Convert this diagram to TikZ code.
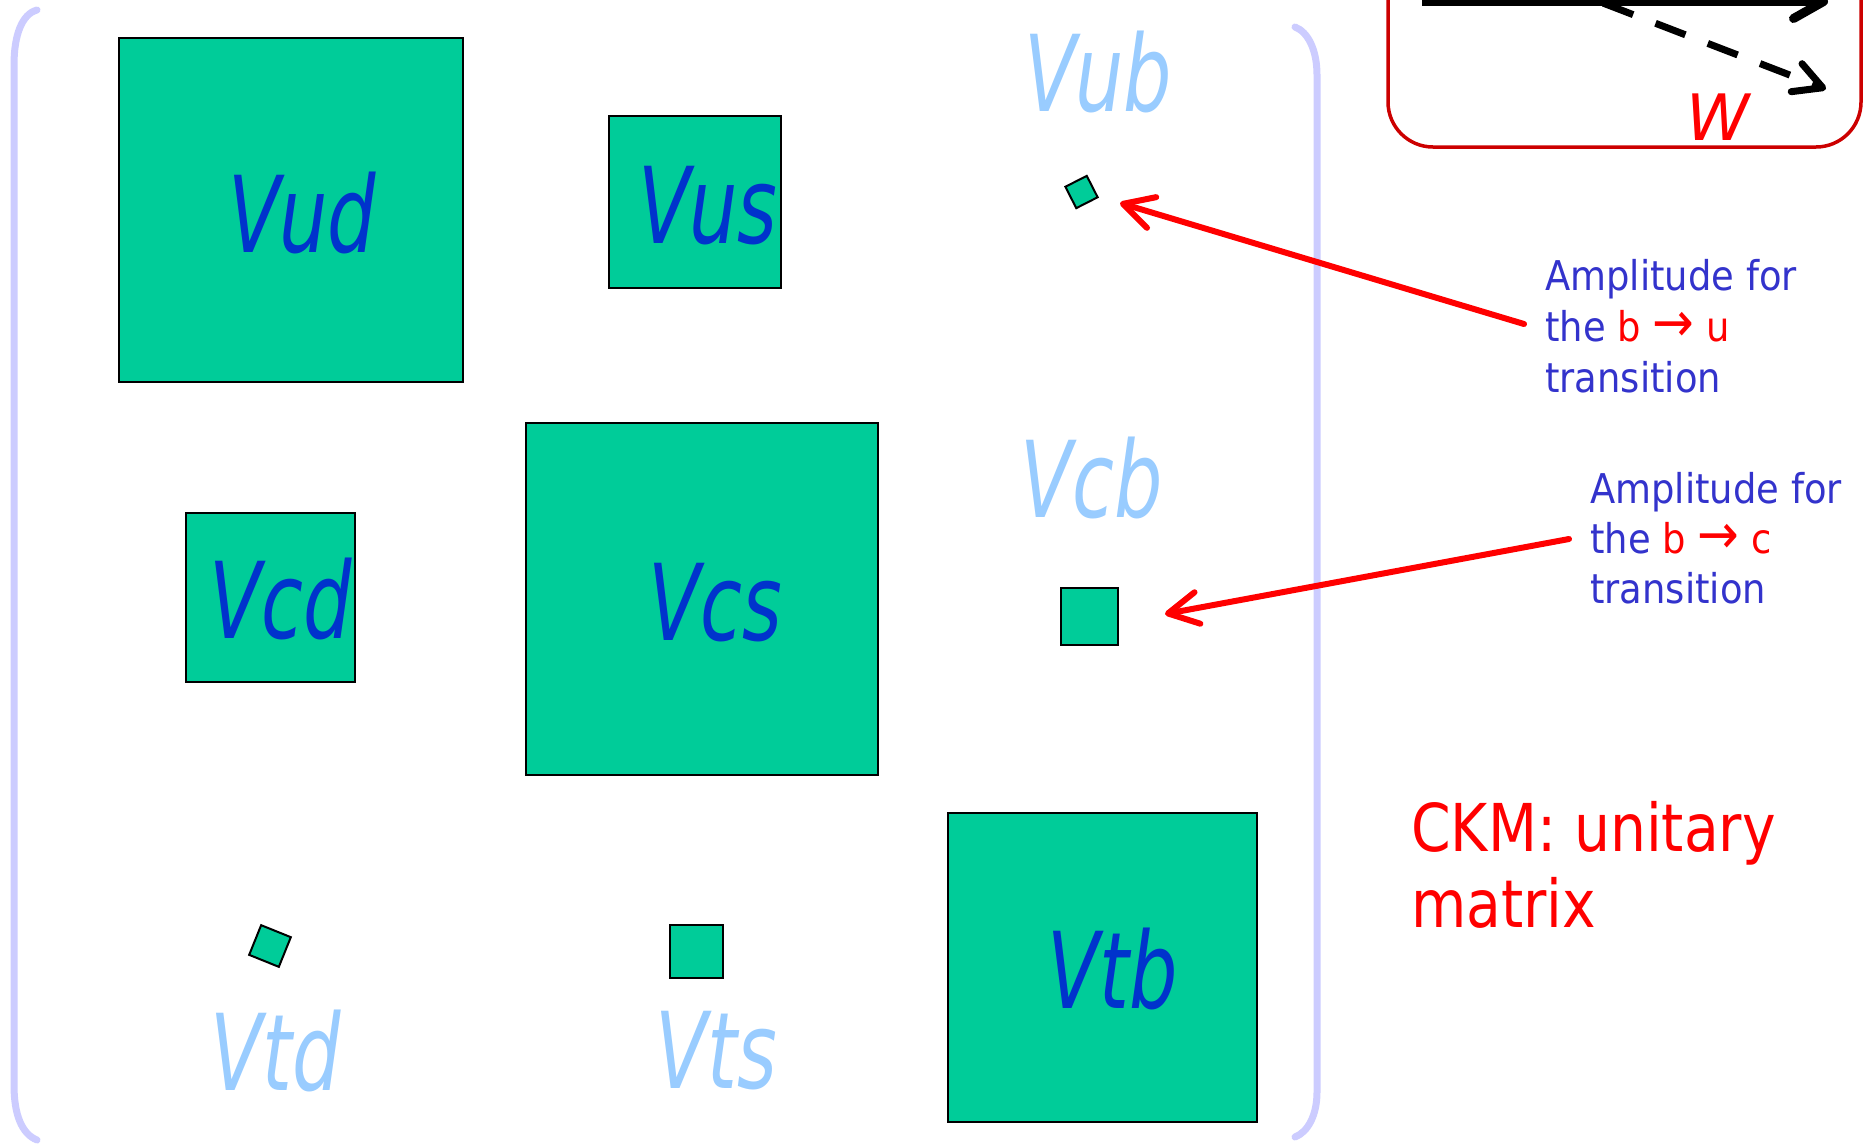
\documentclass[tikz,border=0pt]{standalone}
\usepackage{fontspec}
\usetikzlibrary{arrows.meta}
\newfontfamily\vfont[FakeStretch=0.72]{DejaVu Sans}
\newfontfamily\tfont[FakeStretch=0.9]{DejaVu Sans}
\newfontfamily\cfont[FakeStretch=0.86]{DejaVu Sans}
\newfontfamily\pfont{DejaVu Sans}
\definecolor{ckmgreen}{RGB}{0,204,153}
\definecolor{darkv}{RGB}{0,51,204}
\definecolor{lightv}{RGB}{153,204,255}
\definecolor{brack}{RGB}{204,204,255}
\definecolor{ampblue}{RGB}{51,51,204}
\definecolor{boxred}{RGB}{204,0,0}
\newcommand{\bigarr}{\scalebox{1.35}{→}}
\begin{document}
\begin{tikzpicture}[x=1pt,y=-1pt,
  cell/.style={draw=black,line width=2pt,fill=ckmgreen,inner sep=0pt,minimum size=#1,anchor=center},
  vdark/.style={font=\vfont\itshape\fontsize{106}{106}\selectfont,text=darkv,inner sep=0pt,anchor=base west},
  vlight/.style={font=\vfont\itshape\fontsize{106}{106}\selectfont,text=lightv,inner sep=0pt,anchor=base west},
  amp/.style={font=\tfont\fontsize{41}{51}\selectfont,text=ampblue,inner sep=0pt,anchor=base west},
  ckm/.style={font=\cfont\fontsize{66}{76}\selectfont,text=red,inner sep=0pt,anchor=base west},
  redarrow/.style={red,line width=6pt,line cap=round,-{Straight Barb[length=30pt,width=32pt,round]}},
  bracket/.style={brack,line width=7pt,line cap=round}]
\useasboundingbox (0,0) rectangle (1870,1144);
\clip (0,0) rectangle (1870,1144);
\fill[white] (0,0) rectangle (1870,1144);

% brackets
\draw[bracket] (37,10) .. controls (22,14) and (14,35) .. (14,65) -- (14,1085) .. controls (14,1115) and (22,1134) .. (37,1140);
\draw[bracket] (1295,27) .. controls (1308,32) and (1317,50) .. (1317,75) -- (1317,1092) .. controls (1317,1115) and (1308,1132) .. (1295,1137);

% cells
\node[cell=344pt] (ud) at (291,210) {};
\node[cell=172pt] (us) at (695,201.5) {};
\node[cell=24pt,rotate=27] (ub) at (1081.5,192) {};
\node[cell=169pt] (cd) at (270.7,597.5) {};
\node[cell=352pt] (cs) at (702,598.7) {};
\node[cell=57pt] (cb) at (1089,616) {};
\node[cell=32pt,rotate=-22] (td) at (270,946) {};
\node[cell=53pt] (ts) at (696.5,951.7) {};
\node[cell=309pt] (tb) at (1102.5,967) {};

% labels
\node[vdark] (lud) at (228,252) {Vud};
\node[vdark] (lus) at (638,243) {Vus};
\node[vlight] (lub) at (1024,111) {Vub};
\node[vdark] (lcd) at (209,638) {Vcd};
\node[vdark] (lcs) at (648,640) {Vcs};
\node[vlight] (lcb) at (1020,517) {Vcb};
\node[vlight] (ltd) at (210,1090) {Vtd};
\node[vlight] (lts) at (655,1088) {Vts};
\node[vdark] (ltb) at (1047,1008) {Vtb};

% annotations
\node[amp] (a1a) at (1545,290) {Amplitude for};
\node[amp] (a1b) at (1545,341) {the {\color{red}b \bigarr{} u}};
\node[amp] (a1c) at (1545,392) {transition};
\node[amp] (a2a) at (1590,503) {Amplitude for};
\node[amp] (a2b) at (1590,553) {the {\color{red}b \bigarr{} c}};
\node[amp] (a2c) at (1590,603) {transition};
\node[ckm] (ck1) at (1411,851) {CKM: unitary};
\node[ckm] (ck2) at (1411,927) {matrix};

\coordinate (r1s) at (1524,324);
\coordinate (r1e) at (1120,203);
\coordinate (r2s) at (1569,539);
\coordinate (r2e) at (1165,614);
\draw[redarrow] (r1s) -- (r1e);
\draw[redarrow] (r2s) -- (r2e);

% top-right inset
\draw[boxred,line width=3.5pt,rounded corners=45pt] (1388,-80) rectangle (1861,147);
\node[font=\pfont\itshape\fontsize{64}{64}\selectfont,text=red,inner sep=0pt,anchor=base west] (w) at (1686,140) {W};
\coordinate (d1) at (1551,-17);
\coordinate (d2) at (1826,89);
\draw[line width=7pt,dash pattern=on 32pt off 24pt,-{Straight Barb[length=28pt,width=30pt,round]}] (d1) -- (d2);
\coordinate (s1) at (1422,1.5);
\coordinate (s2) at (1828,1.5);
\draw[line width=9pt,-{Straight Barb[length=30pt,width=34pt,round]}] (s1) -- (s2);
\end{tikzpicture}
\end{document}
